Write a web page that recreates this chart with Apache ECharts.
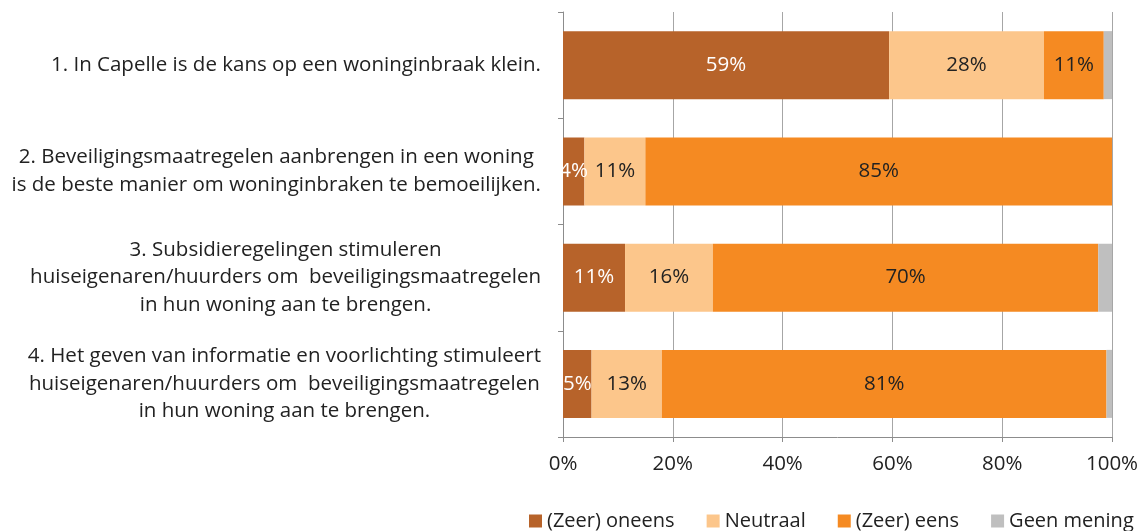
<!DOCTYPE html>
<html>
<head>
<meta charset="utf-8">
<script src="https://cdn.jsdelivr.net/npm/echarts@6/dist/echarts.min.js"></script>
<style>
  html, body { margin: 0; padding: 0; background: #fff; }
  #main { width: 1145px; height: 531px; }
</style>
</head>
<body>
<div id="main"></div>
<script>
// stellingen (van boven naar beneden)
var categories = [
    '1. In Capelle is de kans op een woninginbraak klein.',
    '2. Beveiligingsmaatregelen aanbrengen in een woning\nis de beste manier om woninginbraken te bemoeilijken.',
    '3. Subsidieregelingen stimuleren\nhuiseigenaren/huurders om  beveiligingsmaatregelen\nin hun woning aan te brengen.',
    '4. Het geven van informatie en voorlichting stimuleert\nhuiseigenaren/huurders om  beveiligingsmaatregelen\nin hun woning aan te brengen.'
];
var seriesNames = ['(Zeer) oneens', 'Neutraal', '(Zeer) eens', 'Geen mening'];
var oneens = [59.4, 3.9, 11.3, 5.2];
var neutraal = [28.2, 11.1, 16.0, 12.8];
var eens = [10.9, 85.0, 70.2, 81.0];
var geenMening = [1.5, 0, 2.5, 1.0];
var xTicks = [0, 20, 40, 60, 80, 100];

var kleuren = ['#B7632A', '#FCC68B', '#F58A22', '#BFBFBF'];
var labelKleur = ['#ffffff', '#222222', '#222222', null];
var FONT = 'Open Sans';

var myChart = echarts.init(document.getElementById('main'));

function maakSerie(i, data) {
    return {
        name: seriesNames[i],
        type: 'bar',
        stack: 'totaal',
        barWidth: '64%',
        data: data,
        itemStyle: { color: kleuren[i] },
        label: {
            show: labelKleur[i] !== null,
            position: 'inside',
            color: labelKleur[i] || '#000',
            fontFamily: FONT,
            fontSize: 20.5,
            formatter: function (p) { return Math.round(p.value) + '%'; }
        }
    };
}

var option = {
    animation: false,
    grid: { left: 563, right: 33, top: 12, bottom: 94 },
    legend: {
        data: seriesNames,
        left: 524,
        top: 506,
        itemWidth: 13,
        itemHeight: 13,
        itemGap: 32,
        icon: 'rect',
        textStyle: { fontFamily: FONT, fontSize: 20, color: '#222' }
    },
    xAxis: {
        type: 'value',
        min: xTicks[0],
        max: xTicks[xTicks.length - 1],
        interval: 20,
        axisLine: { show: true, lineStyle: { color: '#8c8c8c' } },
        axisTick: { show: true, length: 5, lineStyle: { color: '#8c8c8c' } },
        splitLine: { show: true, lineStyle: { color: '#a6a6a6' } },
        axisLabel: {
            margin: 17,
            fontFamily: FONT,
            fontSize: 20.5,
            color: '#222',
            formatter: '{value}%'
        }
    },
    yAxis: {
        type: 'category',
        inverse: true,
        data: categories,
        axisLine: { show: true, lineStyle: { color: '#8c8c8c' } },
        axisTick: { show: true, length: 5, lineStyle: { color: '#8c8c8c' } },
        axisLabel: {
            margin: 22,
            color: '#222',
            fontFamily: FONT,
            fontSize: 20.5,
            lineHeight: 27.5,
            formatter: function (v) {
                return v.split('\n').map(function (r) { return '{c|' + r + '}'; }).join('\n');
            },
            rich: {
                c: { align: 'center', fontFamily: FONT, fontSize: 20.5, lineHeight: 27.5, color: '#222' }
            }
        }
    },
    series: [
        maakSerie(0, oneens),
        maakSerie(1, neutraal),
        maakSerie(2, eens),
        maakSerie(3, geenMening)
    ]
};

myChart.setOption(option);
</script>
</body>
</html>
